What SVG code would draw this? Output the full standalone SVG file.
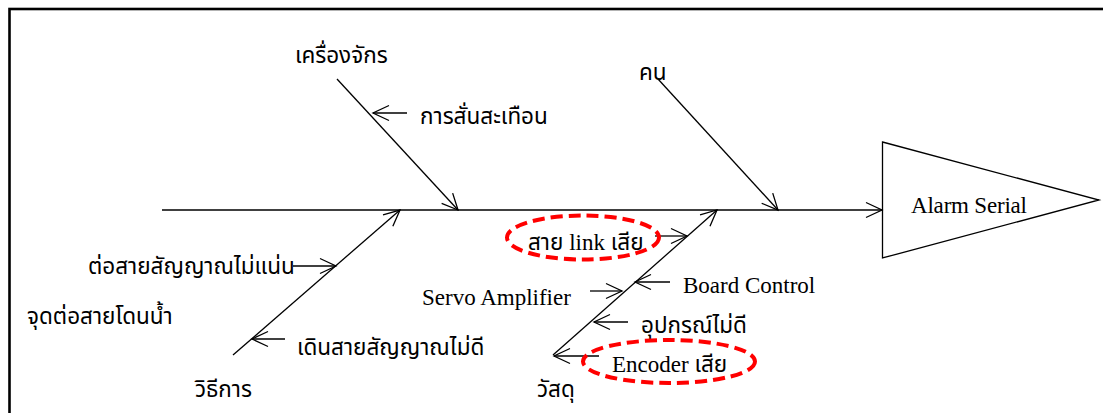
<svg xmlns="http://www.w3.org/2000/svg" width="1103" height="413" viewBox="0 0 1103 413">
<style>
.ln{stroke:#000;stroke-width:1.3;fill:none}
.th{font-family:"Noto Sans Thai","Noto Serif Thai","Liberation Serif",serif;font-size:22.5px;fill:#000}
.en{font-family:"Liberation Serif","Times New Roman",serif;font-size:23px;fill:#000}
.hl{fill:none;stroke:#f00;stroke-width:4;stroke-dasharray:12 6}
</style>
<defs>
<marker id="ah" markerWidth="20" markerHeight="20" refX="16" refY="8" orient="auto" markerUnits="userSpaceOnUse" overflow="visible">
<path d="M0,0.5 L16,8 L0,15.5" fill="none" stroke="#000" stroke-width="1.3"/>
</marker>
</defs>
<rect width="1103" height="413" fill="#fff"/>
<rect id="frame" x="9.5" y="9" width="1200" height="500" fill="none" stroke="#000" stroke-width="2.6"/>
<g id="connectors">
<line class="ln" x1="162" y1="210" x2="882" y2="210" marker-end="url(#ah)"/>
<line class="ln" x1="337" y1="79" x2="458" y2="210" marker-end="url(#ah)"/>
<line class="ln" x1="658" y1="79" x2="778" y2="210" marker-end="url(#ah)"/>
<line class="ln" x1="233" y1="355" x2="400" y2="210" marker-end="url(#ah)"/>
<line class="ln" x1="553" y1="355" x2="717" y2="210" marker-end="url(#ah)"/>
<line class="ln" x1="407" y1="113" x2="373" y2="113" marker-end="url(#ah)"/>
<line class="ln" x1="293" y1="266" x2="336" y2="266" marker-end="url(#ah)"/>
<line class="ln" x1="285" y1="339" x2="252" y2="339" marker-end="url(#ah)"/>
<line class="ln" x1="655" y1="236" x2="687" y2="236" marker-end="url(#ah)"/>
<line class="ln" x1="590" y1="291" x2="622" y2="291" marker-end="url(#ah)"/>
<line class="ln" x1="670" y1="282" x2="635" y2="282" marker-end="url(#ah)"/>
<line class="ln" x1="628" y1="322" x2="594" y2="322" marker-end="url(#ah)"/>
<line class="ln" x1="599" y1="356" x2="554" y2="356" marker-end="url(#ah)"/>
</g>
<g id="effect">
<polygon class="ln" points="882.5,142 1099,200 882.5,258"/>
<text class="en" x="911" y="213" textLength="116">Alarm Serial</text>
</g>
<g id="cat-machine"><text class="th" x="295" y="63">เครื่องจักร</text></g>
<g id="cat-man"><text class="th" x="639" y="80">คน</text></g>
<g id="cat-method"><text class="th" x="195" y="397">วิธีการ</text></g>
<g id="cat-material"><text class="th" x="537" y="397">วัสดุ</text></g>
<g id="c-vibration"><text class="th" x="420" y="124">การสั่นสะเทือน</text></g>
<g id="c-loose"><text class="th" x="88" y="274">ต่อสายสัญญาณไม่แน่น</text></g>
<g id="c-water"><text class="th" x="27" y="324">จุดต่อสายโดนน้ำ</text></g>
<g id="c-wiring"><text class="th" x="297" y="355">เดินสายสัญญาณไม่ดี</text></g>
<g id="c-link">
<ellipse class="hl" cx="583" cy="237.5" rx="76" ry="22"/>
<text class="th" x="528" y="250">สาย <tspan class="en">link</tspan> เสีย</text>
</g>
<g id="c-servo"><text class="en" x="422" y="305">Servo Amplifier</text></g>
<g id="c-board"><text class="en" x="683" y="293">Board Control</text></g>
<g id="c-device"><text class="th" x="641" y="333">อุปกรณ์ไม่ดี</text></g>
<g id="c-encoder">
<ellipse class="hl" cx="669" cy="361.5" rx="86" ry="21.5"/>
<text class="th" x="612" y="372"><tspan class="en">Encoder</tspan> เสีย</text>
</g>
</svg>
